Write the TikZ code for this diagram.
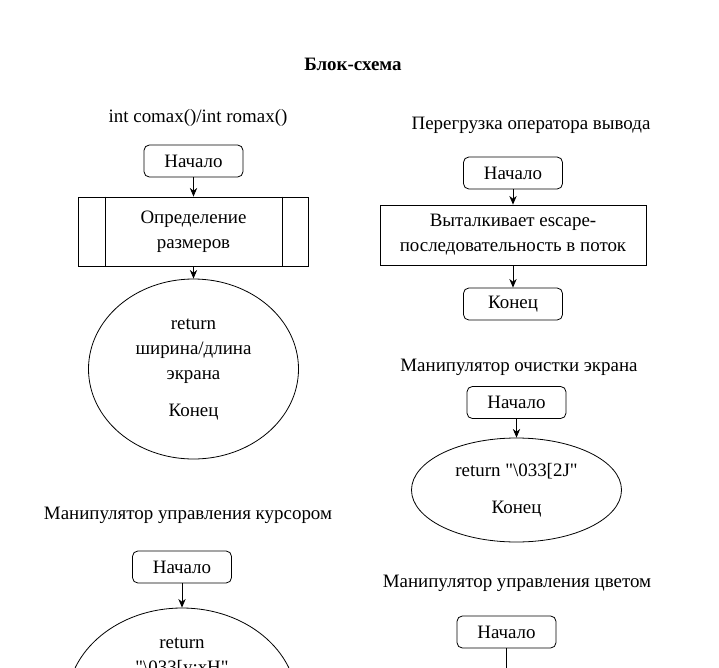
\documentclass[tikz,border=0pt]{standalone}
\usepackage{fontspec}
\setmainfont{Liberation Serif}[Ligatures=TeXOff]
\usetikzlibrary{shapes, arrows.meta, positioning}

\begin{document}
\begin{tikzpicture}[x=0.75pt, y=-0.75pt,
        every node/.style={font=\fontsize{14.2}{18.75}\selectfont, align=center},
        startbox/.style={rectangle, draw, rounded corners=4pt, minimum width=74.25pt, minimum height=24pt, inner sep=1pt},
        actbox/.style={rectangle, draw, inner sep=2pt},
        endoval/.style={ellipse, draw, inner sep=0pt},
        arr/.style={-{Stealth[length=6.5pt, width=5.5pt]}}]
        \path[use as bounding box, clip] (0,0) rectangle (719,668);
        \tikzset{every path/.style={line width=0.6pt}}

        % headings
        \node[font=\fontsize{14.2}{18.75}\selectfont\bfseries] (title) at (353,64) {Блок-схема};
        \node (hsize) at (198,118) {int comax()/int romax()};
        \node (hout) at (531,125) {Перегрузка оператора вывода};
        \node (hclear) at (519,367) {Манипулятор очистки экрана};
        \node (hcursor) at (188,515) {Манипулятор управления курсором};
        \node (hcolor) at (517,583) {Манипулятор управления цветом};

        % int comax()/int romax()
        \node[startbox] (s1) at (193.5,161) {Начало};
        \node[actbox, minimum width=172.5pt, minimum height=51.75pt] (sub1) at (193.5,231.5) {Определение\\размеров};
        \draw ([xshift=20.25pt]sub1.north west) -- ([xshift=20.25pt]sub1.south west)
            ([xshift=-20.25pt]sub1.north east) -- ([xshift=-20.25pt]sub1.south east);
        \node[endoval, minimum width=157.5pt, minimum height=135pt] (e1) at (193.5,369) {return\\ширина/длина\\экрана\\[9pt]Конец};
        \draw[arr] (s1) -- (sub1);
        \draw[arr] (sub1) -- (e1);

        % operator<<
        \node[startbox] (s2) at (513,173) {Начало};
        \node[actbox, minimum width=199.5pt, minimum height=45pt] (act2) at (513,235) {Выталкивает escape-\\последовательность в поток};
        \node[startbox] (f2) at (513,304) {Конец};
        \draw[arr] (s2) -- (act2);
        \draw[arr] (act2) -- (f2);

        % clear screen
        \node[startbox] (s3) at (516.5,402.5) {Начало};
        \node[endoval, minimum width=157.5pt, minimum height=78pt] (e3) at (516.5,490) {return "\textbackslash 033[2J"\\[9pt]Конец};
        \draw[arr] (s3) -- (e3);

        % cursor
        \node[startbox] (s4) at (182,567) {Начало};
        \node[endoval, minimum width=172.5pt, minimum height=142.5pt] (e4) at (182,703) {};
        \node (ret4) at (182,657.5) {return\\"\textbackslash 033[y;xH"};
        \draw[arr] (s4) -- (e4);

        % colour
        \node[startbox] (s5) at (506.5,632) {Начало};
        \coordinate (c5) at (506.5,690);
        \draw[arr] (s5) -- (c5);
    \end{tikzpicture}
\end{document}
